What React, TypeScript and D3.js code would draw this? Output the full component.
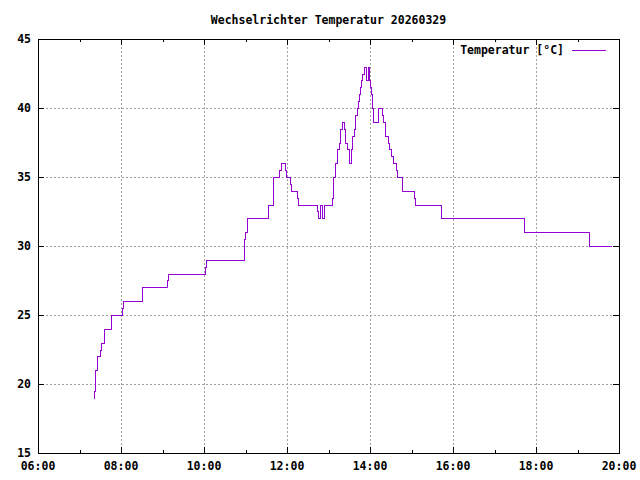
import React from "react";
import * as d3 from "d3";

// step series: each temperature holds from its time until the next time
const times = [
  "07:21", "07:21", "07:22", "07:26", "07:29", "07:31", "07:36", "07:46", "08:02", "08:03",
  "08:31", "09:07", "09:08", "10:02", "10:03", "10:58", "10:59", "11:02", "11:32", "11:40",
  "11:49", "11:51", "11:57", "11:59", "12:05", "12:06", "12:15", "12:16", "12:44", "12:45",
  "12:48", "12:50", "12:53", "13:05", "13:06", "13:07", "13:09", "13:10", "13:12", "13:13",
  "13:15", "13:17", "13:19", "13:23", "13:24", "13:27", "13:30", "13:33", "13:34", "13:37",
  "13:39", "13:41", "13:42", "13:44", "13:45", "13:47", "13:49", "13:52", "13:54", "13:57",
  "13:59", "14:00", "14:01", "14:03", "14:04", "14:12", "14:17", "14:19", "14:22", "14:26",
  "14:28", "14:30", "14:33", "14:37", "14:39", "14:46", "15:04", "15:05", "15:43", "17:42",
  "19:16", "19:49",
];
const temps = [
  19, 19.5, 21, 22, 22.5, 23, 24, 25, 25.5, 26,
  27, 27.5, 28, 28.5, 29, 30.5, 31, 32, 33, 35,
  35.5, 36, 35.5, 35, 34.5, 34, 33.5, 33, 32.5, 32,
  33, 32, 33, 33.5, 34.5, 35, 35.5, 36, 36.5, 37,
  37.5, 38.5, 39, 38.5, 37.5, 37, 36, 37, 38, 38.5,
  39.5, 40, 40.5, 41, 41.5, 42, 42.5, 43, 42, 43,
  42, 41.5, 41, 40, 39, 40, 39.5, 39, 38, 37.5,
  37, 36.5, 36, 35.5, 35, 34, 33.5, 33, 32, 31,
  30, 30,
];

const xTickLabels = ["06:00", "08:00", "10:00", "12:00", "14:00", "16:00", "18:00", "20:00"];
const yTicks = [15, 20, 25, 30, 35, 40, 45];
const title = "Wechselrichter Temperatur 20260329";
const seriesName = "Temperatur [°C]";

const toMin = (s: string) => {
  const [h, m] = s.split(":").map(Number);
  return h * 60 + m;
};

const W = 640;
const H = 480;
const L = 38;
const R = 619;
const T = 39;
const B = 453;
const FONT = "'DejaVu Sans Mono', monospace";
const COLOR = "#9400d3";

export default function App() {
  const x = d3.scaleLinear().domain([360, 1200]).range([L, R]);
  const y = d3.scaleLinear().domain([15, 45]).range([B, T]);
  const data = times.map((t, i) => ({ t: toMin(t), v: temps[i] }));
  const line = d3
    .line<{ t: number; v: number }>()
    .x((d) => Math.round(x(d.t)) + 0.5)
    .y((d) => Math.round(y(d.v)) + 0.5)
    .curve(d3.curveStepAfter);
  const majorX = xTickLabels.map(toMin);
  const minorX = d3.range(420, 1200, 120);
  const px = (v: number) => Math.round(v) + 0.5;

  return (
    <svg
      width={W}
      height={H}
      style={{ position: "absolute", left: 0, top: 0, background: "#fff" }}
    >
      <rect x={0} y={0} width={W} height={H} fill="#fff" />
      {/* grid */}
      <g stroke="#a0a0a0" strokeWidth={1} strokeDasharray="2,2" shapeRendering="crispEdges">
        {majorX.slice(1, -1).map((t) => (
          <line key={"gx" + t} x1={px(x(t))} x2={px(x(t))} y1={T} y2={B} />
        ))}
        {yTicks.slice(1, -1).map((v) => (
          <line key={"gy" + v} x1={L} x2={R} y1={px(y(v))} y2={px(y(v))} />
        ))}
      </g>
      {/* ticks */}
      <g stroke="#000" strokeWidth={1} shapeRendering="crispEdges">
        {majorX.map((t) => (
          <g key={"tx" + t}>
            <line x1={px(x(t))} x2={px(x(t))} y1={B} y2={B - 6} />
            <line x1={px(x(t))} x2={px(x(t))} y1={T} y2={T + 6} />
          </g>
        ))}
        {minorX.map((t) => (
          <g key={"mx" + t}>
            <line x1={px(x(t))} x2={px(x(t))} y1={B} y2={B - 3} />
            <line x1={px(x(t))} x2={px(x(t))} y1={T} y2={T + 3} />
          </g>
        ))}
        {yTicks.map((v) => (
          <g key={"ty" + v}>
            <line x1={L} x2={L + 6} y1={px(y(v))} y2={px(y(v))} />
            <line x1={R} x2={R - 6} y1={px(y(v))} y2={px(y(v))} />
          </g>
        ))}
      </g>
      {/* data */}
      <path
        d={line(data) || ""}
        fill="none"
        stroke={COLOR}
        strokeWidth={1}
        shapeRendering="crispEdges"
      />
      {/* frame */}
      <rect
        x={L + 0.5}
        y={T + 0.5}
        width={R - L}
        height={B - T}
        fill="none"
        stroke="#000"
        strokeWidth={1}
        shapeRendering="crispEdges"
      />
      {/* labels */}
      <g fontFamily={FONT} fontWeight="bold" fontSize={11.5} fill="#000">
        {yTicks.map((v) => (
          <text key={"ly" + v} x={31} y={y(v) + 4} textAnchor="end">
            {v}
          </text>
        ))}
        {xTickLabels.map((s) => (
          <text key={"lx" + s} x={x(toMin(s))} y={470} textAnchor="middle">
            {s}
          </text>
        ))}
        <text x={(L + R) / 2} y={24} textAnchor="middle">
          {title}
        </text>
        <text x={564} y={54} textAnchor="end">
          {seriesName}
        </text>
      </g>
      <line
        x1={572}
        x2={606}
        y1={50.5}
        y2={50.5}
        stroke={COLOR}
        strokeWidth={1}
        shapeRendering="crispEdges"
      />
    </svg>
  );
}
